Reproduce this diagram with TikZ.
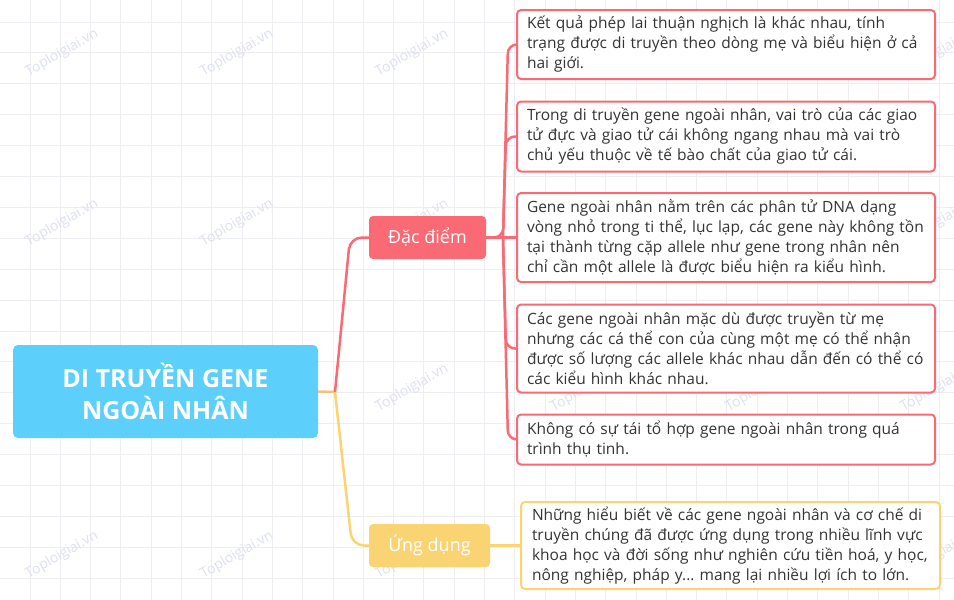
\documentclass[tikz,border=0pt]{standalone}
\usepackage{fontspec}
\setmainfont{Open Sans}
\frenchspacing
\definecolor{rootc}{HTML}{5CCFFA}
\definecolor{redc}{HTML}{F96A74}
\definecolor{yelc}{HTML}{FAD372}
\definecolor{forkc}{HTML}{F8C07E}
\definecolor{txt}{HTML}{333333}
\definecolor{gridc}{HTML}{EEEEF2}
\definecolor{wmc}{HTML}{DDE0F0}
\tikzset{
  rootbox/.style={fill=rootc, rounded corners=5pt, text=white, minimum width=305, minimum height=93, align=center,
    font=\fontsize{25}{32}\selectfont\bfseries, inner sep=0pt},
  catbox/.style={rounded corners=4pt, text=white, minimum height=43, inner sep=0pt,
    font=\fontsize{18}{22}\selectfont},
  leafbox/.style={draw=redc, line width=2pt, fill=white, rounded corners=4pt, text=txt, align=left,
    minimum width=418, inner xsep=10pt, inner ysep=0pt, text width=398,
    font=\fontsize{15.5}{20}\selectfont},
  yleafbox/.style={leafbox, draw=yelc, minimum width=419, inner xsep=11pt, text width=397},
  redline/.style={draw=redc, line width=2.5pt},
  yelline/.style={draw=yelc, line width=2.5pt},
  wm/.style={text=wmc, rotate=30, font=\fontsize{14}{16}\selectfont}
}
\begin{document}
\begin{tikzpicture}[x=1pt,y=-1pt]
\useasboundingbox (0,0) rectangle (954,600);
\fill[white] (0,0) rectangle (954,600);
\foreach \i in {0,...,31} \draw[gridc, line width=1pt] ({30+30.3*\i},0) -- ++(0,600);
\foreach \j in {0,...,19} \draw[gridc, line width=1pt] (0,{22+30.9*\j}) -- ++(954,0);

% watermarks
\foreach \x in {62,237,412,587,762,937}
  \foreach \y in {53,223,388,555}
    \node[wm] at (\x,\y) {Toploigiai.vn};

% nodes
\node[rootbox] (root) at (165.5,391.5) {DI TRUYỀN GENE\\NGOÀI NHÂN};
\node[catbox, fill=redc, minimum width=117] (dd) at (427.5,237.5) {Đặc điểm};
\node[catbox, fill=yelc, minimum width=121] (ud) at (429.5,545.5) {Ứng dụng};

\node[leafbox, minimum height=69] (l1) at (726,44.5) {Kết quả phép lai thuận nghịch là khác nhau, tính\\trạng được di truyền theo dòng mẹ và biểu hiện ở cả\\hai giới.};
\node[leafbox, minimum height=70] (l2) at (726,136.5) {Trong di truyền gene ngoài nhân, vai trò của các giao\\tử đực và giao tử cái không ngang nhau mà vai trò\\chủ yếu thuộc về tế bào chất của giao tử cái.};
\node[leafbox, minimum height=89] (l3) at (726,237.5) {Gene ngoài nhân nằm trên các phân tử DNA dạng\\vòng nhỏ trong ti thể, lục lạp, các gene này không tồn\\tại thành từng cặp allele như gene trong nhân nên\\chỉ cần một allele là được biểu hiện ra kiểu hình.};
\node[leafbox, minimum height=88] (l4) at (726,348.5) {Các gene ngoài nhân mặc dù được truyền từ mẹ\\nhưng các cá thể con của cùng một mẹ có thể nhận\\được số lượng các allele khác nhau dẫn đến có thể có\\các kiểu hình khác nhau.};
\node[leafbox, minimum height=50] (l5) at (726,439.5) {Không có sự tái tổ hợp gene ngoài nhân trong quá\\trình thụ tinh.};
\node[yleafbox, minimum height=87] (u1) at (730.5,545.5) {Những hiểu biết về các gene ngoài nhân và cơ chế di\\truyền chúng đã được ứng dụng trong nhiều lĩnh vực\\khoa học và đời sống như nghiên cứu tiền hoá, y học,\\nông nghiệp, pháp y... mang lại nhiều lợi ích to lớn.};

% connectors
\coordinate (fork) at (335,392);
\draw[forkc, line width=2.5pt] (root.east) -- (fork);
\draw[redline, rounded corners=12pt] (fork) -- (350,237.5) -- (dd.west);
\draw[yelline, rounded corners=12pt] (fork) -- (352,545.5) -- (ud.west);
\coordinate (bus) at (503,237.5);
\draw[redline] (dd.east) -- (l3.west);
\draw[redline, rounded corners=9pt] (dd.east) -- (bus) -- (508,44.5) -- (l1.west);
\draw[redline, rounded corners=9pt] (bus) -- (506,136.5) -- (l2.west);
\draw[redline, rounded corners=9pt] (bus) -- (506,348.5) -- (l4.west);
\draw[redline, rounded corners=9pt] (bus) -- (508,439.5) -- (l5.west);
\draw[yelline] (ud.east) -- (u1.west);
\end{tikzpicture}
\end{document}
